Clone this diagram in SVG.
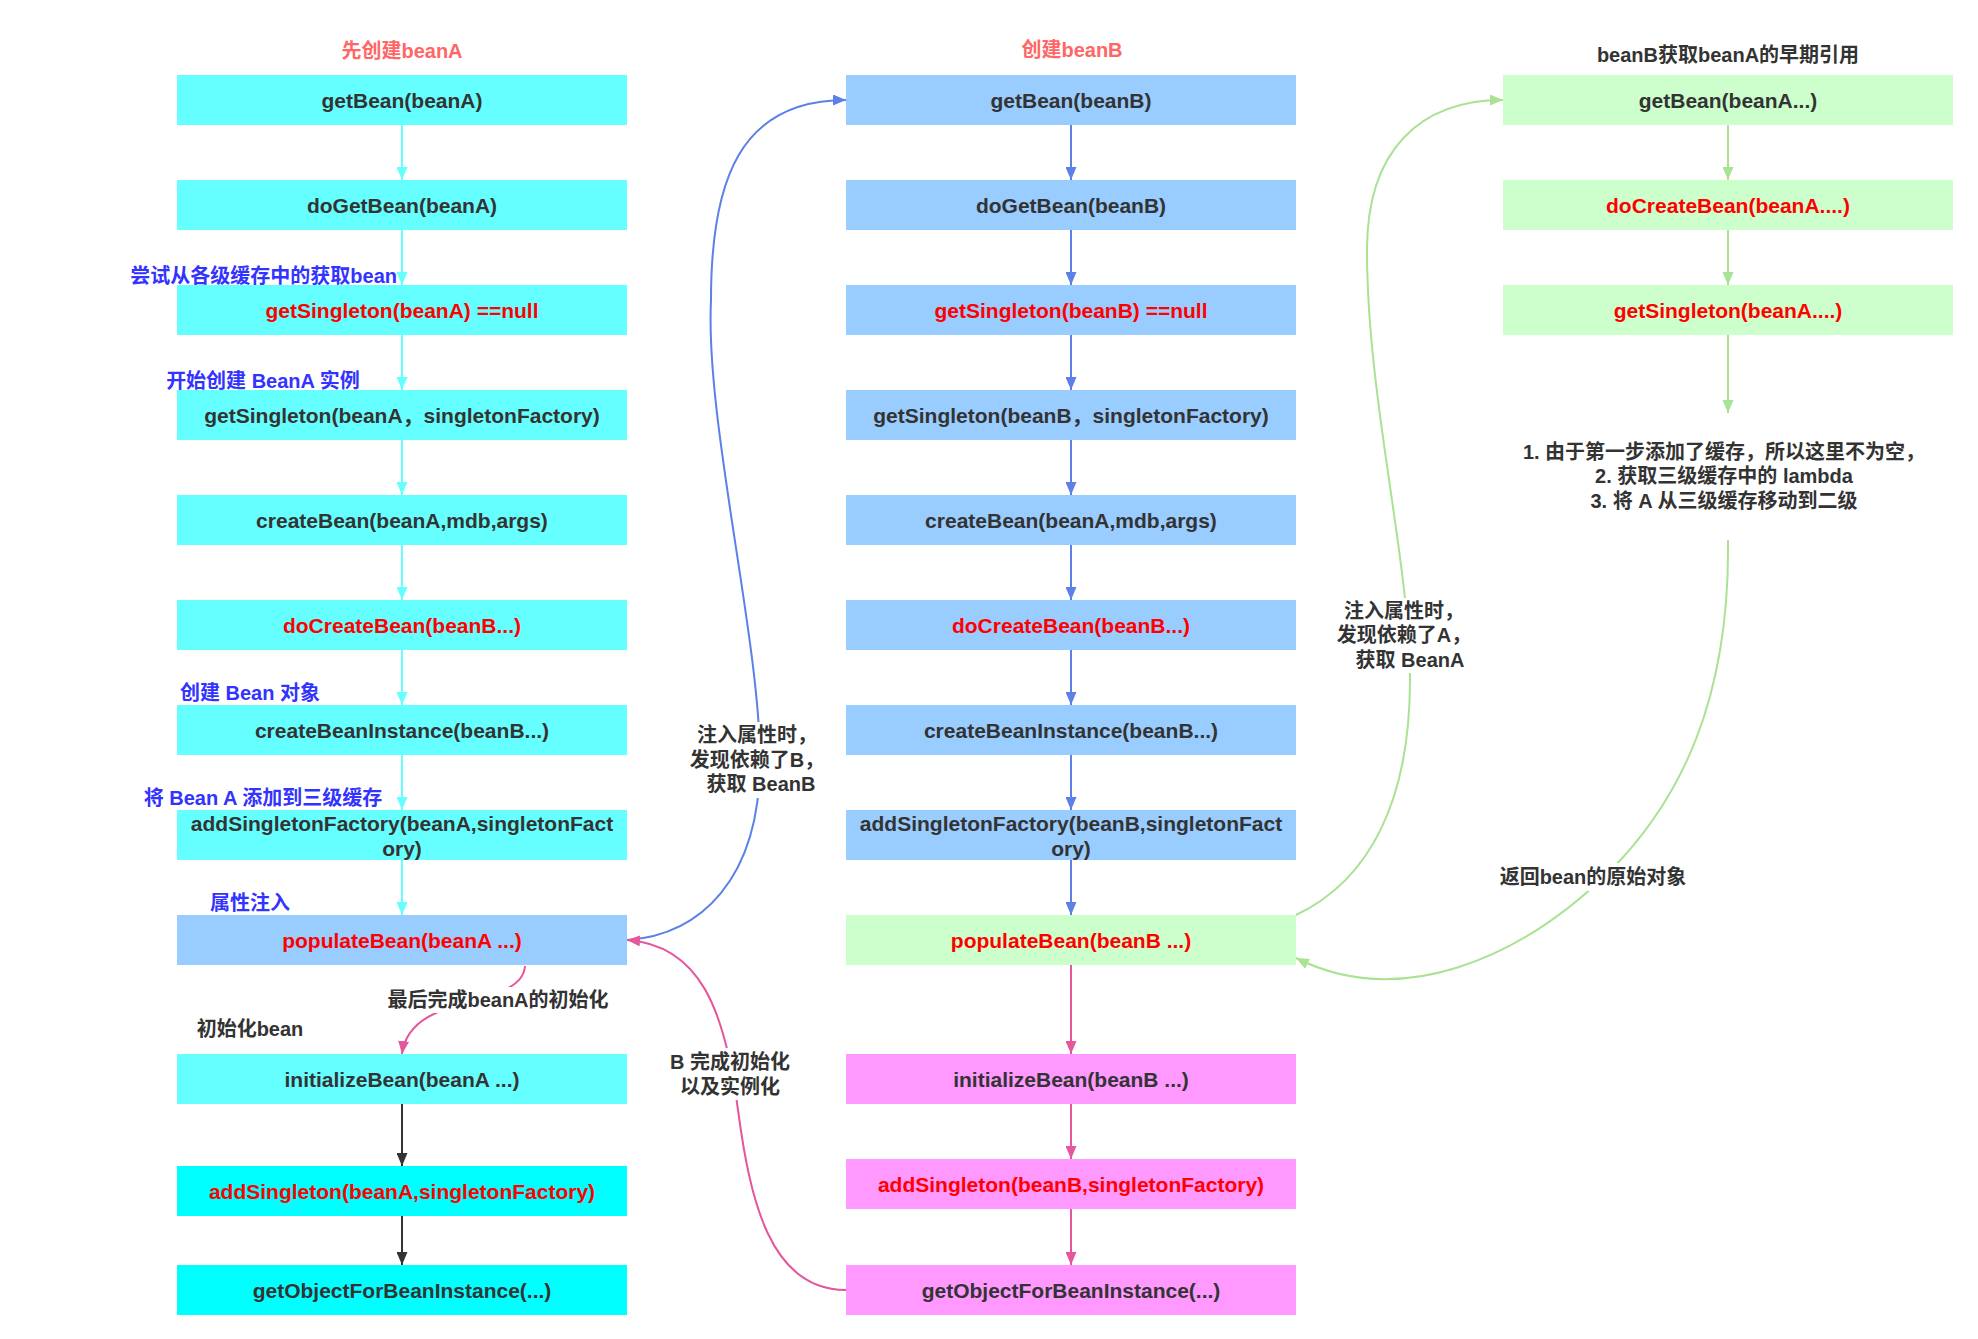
<svg xmlns="http://www.w3.org/2000/svg" width="1978" height="1339" viewBox="0 0 1978 1339">
<style>
text { font-family: "Liberation Sans", "Noto Sans CJK SC", sans-serif; font-weight: bold; dominant-baseline: central; text-anchor: middle; }
.bt { font-size: 21px; fill: #333333; }
.red { fill: #FF0000; }
.lbl { font-size: 20px; fill: #333333; }
.blue { fill: #3333FF; }
.title { fill: #FF6666; }
.c1 { fill: #66FFFF; }
.c2 { fill: #00FFFF; }
.b { fill: #99CCFF; }
.g { fill: #CCFFCC; }
.p { fill: #FF99FF; }
.e { fill: none; stroke-width: 2; }
.ec { stroke: #66FFFF; marker-end: url(#mc); }
.eb { stroke: #5C7FE8; marker-end: url(#mb); }
.ep { stroke: #E5569C; marker-end: url(#mp); }
.ed { stroke: #333333; marker-end: url(#md); }
.eg { stroke: #A9E292; marker-end: url(#mg); }
.bg { fill: #FFFFFF; }
</style>
<defs>
<marker id="mc" markerUnits="userSpaceOnUse" viewBox="0 0 13 11" refX="13" refY="5.5" markerWidth="13" markerHeight="11" orient="auto"><path d="M0,0 L13,5.5 L0,11 Z" fill="#66FFFF"/></marker>
<marker id="mb" markerUnits="userSpaceOnUse" viewBox="0 0 13 11" refX="13" refY="5.5" markerWidth="13" markerHeight="11" orient="auto"><path d="M0,0 L13,5.5 L0,11 Z" fill="#5C7FE8"/></marker>
<marker id="mp" markerUnits="userSpaceOnUse" viewBox="0 0 13 11" refX="13" refY="5.5" markerWidth="13" markerHeight="11" orient="auto"><path d="M0,0 L13,5.5 L0,11 Z" fill="#E5569C"/></marker>
<marker id="md" markerUnits="userSpaceOnUse" viewBox="0 0 13 11" refX="13" refY="5.5" markerWidth="13" markerHeight="11" orient="auto"><path d="M0,0 L13,5.5 L0,11 Z" fill="#333333"/></marker>
<marker id="mg" markerUnits="userSpaceOnUse" viewBox="0 0 13 11" refX="13" refY="5.5" markerWidth="13" markerHeight="11" orient="auto"><path d="M0,0 L13,5.5 L0,11 Z" fill="#A9E292"/></marker>
</defs>
<rect width="1978" height="1339" fill="#FFFFFF"/>

<g id="connectors">
  <line class="e ec" x1="402" y1="125" x2="402" y2="180"/>
  <line class="e ec" x1="402" y1="230" x2="402" y2="285"/>
  <line class="e ec" x1="402" y1="335" x2="402" y2="390"/>
  <line class="e ec" x1="402" y1="440" x2="402" y2="495"/>
  <line class="e ec" x1="402" y1="545" x2="402" y2="600"/>
  <line class="e ec" x1="402" y1="650" x2="402" y2="705"/>
  <line class="e ec" x1="402" y1="755" x2="402" y2="810"/>
  <line class="e ec" x1="402" y1="860" x2="402" y2="915"/>
  <path class="e ep" d="M525 966 C522 1010, 410 990, 402 1054"/>
  <line class="e ed" x1="402" y1="1104" x2="402" y2="1166"/>
  <line class="e ed" x1="402" y1="1216" x2="402" y2="1265"/>

  <line class="e eb" x1="1071" y1="125" x2="1071" y2="180"/>
  <line class="e eb" x1="1071" y1="230" x2="1071" y2="285"/>
  <line class="e eb" x1="1071" y1="335" x2="1071" y2="390"/>
  <line class="e eb" x1="1071" y1="440" x2="1071" y2="495"/>
  <line class="e eb" x1="1071" y1="545" x2="1071" y2="600"/>
  <line class="e eb" x1="1071" y1="650" x2="1071" y2="705"/>
  <line class="e eb" x1="1071" y1="755" x2="1071" y2="810"/>
  <line class="e eb" x1="1071" y1="860" x2="1071" y2="915"/>
  <line class="e ep" x1="1071" y1="965" x2="1071" y2="1054"/>
  <line class="e ep" x1="1071" y1="1104" x2="1071" y2="1159"/>
  <line class="e ep" x1="1071" y1="1209" x2="1071" y2="1265"/>

  <line class="e eg" x1="1728" y1="125" x2="1728" y2="180"/>
  <line class="e eg" x1="1728" y1="230" x2="1728" y2="285"/>
  <line class="e eg" x1="1728" y1="335" x2="1728" y2="413"/>

  <path class="e eb" d="M627 940 C700 935, 760 880, 760 760 C760 640, 705 420, 711 300 C711 180, 740 100, 846 100"/>
  <path class="e ep" d="M846 1290 C770 1290, 750 1200, 738 1110 C725 1010, 700 945, 627 940"/>
  <path class="e eg" d="M1296 915 C1370 880, 1410 800, 1410 680 C1410 560, 1367 400, 1367 250 C1367 150, 1420 100, 1503 100"/>
  <path class="e eg" d="M1728 540 C1730 700, 1680 800, 1611 870 C1520 960, 1400 1010, 1296 958"/>

  <rect class="bg" x="386" y="987" width="224" height="26"/>
  <text class="lbl" x="498" y="1000">最后完成beanA的初始化</text>
  <rect class="bg" x="693" y="722" width="126" height="76"/>
  <text class="lbl" x="757" y="735">注入属性时，</text>
  <text class="lbl" x="757" y="760">发现依赖了B，</text>
  <text class="lbl" x="761" y="784">获取 BeanB</text>
  <rect class="bg" x="670" y="1048" width="121" height="52"/>
  <text class="lbl" x="730" y="1062">B 完成初始化</text>
  <text class="lbl" x="730" y="1087">以及实例化</text>
  <rect class="bg" x="1340" y="598" width="128" height="75"/>
  <text class="lbl" x="1404" y="611">注入属性时，</text>
  <text class="lbl" x="1404" y="635">发现依赖了A，</text>
  <text class="lbl" x="1410" y="660">获取 BeanA</text>
  <rect class="bg" x="1498" y="863" width="192" height="28"/>
  <text class="lbl" x="1593" y="877">返回bean的原始对象</text>
</g>

<g id="labels">
  <text id="title-a" class="lbl title" x="402" y="51">先创建beanA</text>
  <text id="title-b" class="lbl title" x="1072" y="50">创建beanB</text>
  <text id="title-c" class="lbl" x="1728" y="55">beanB获取beanA的早期引用</text>
  <text class="lbl blue" x="397" y="276" style="text-anchor:end">尝试从各级缓存中的获取bean</text>
  <text class="lbl blue" x="263" y="381">开始创建 BeanA 实例</text>
  <text class="lbl blue" x="250" y="693">创建 Bean 对象</text>
  <text class="lbl blue" x="263" y="798">将 Bean A 添加到三级缓存</text>
  <text class="lbl blue" x="250" y="903">属性注入</text>
  <text class="lbl" x="250" y="1029">初始化bean</text>
  <text class="lbl" x="1724" y="452">1. 由于第一步添加了缓存，所以这里不为空，</text>
  <text class="lbl" x="1724" y="476">2. 获取三级缓存中的 lambda</text>
  <text class="lbl" x="1724" y="501">3. 将 A 从三级缓存移动到二级</text>
</g>

<g id="L1"><rect class="c1" x="177" y="75" width="450" height="50"/><text class="bt" x="402" y="100">getBean(beanA)</text></g>
<g id="L2"><rect class="c1" x="177" y="180" width="450" height="50"/><text class="bt" x="402" y="205">doGetBean(beanA)</text></g>
<g id="L3"><rect class="c1" x="177" y="285" width="450" height="50"/><text class="bt red" x="402" y="310">getSingleton(beanA) ==null</text></g>
<g id="L4"><rect class="c1" x="177" y="390" width="450" height="50"/><text class="bt" x="402" y="415">getSingleton(beanA，singletonFactory)</text></g>
<g id="L5"><rect class="c1" x="177" y="495" width="450" height="50"/><text class="bt" x="402" y="520">createBean(beanA,mdb,args)</text></g>
<g id="L6"><rect class="c1" x="177" y="600" width="450" height="50"/><text class="bt red" x="402" y="625">doCreateBean(beanB...)</text></g>
<g id="L7"><rect class="c1" x="177" y="705" width="450" height="50"/><text class="bt" x="402" y="730">createBeanInstance(beanB...)</text></g>
<g id="L8"><rect class="c1" x="177" y="810" width="450" height="50"/><text class="bt" x="402" y="823">addSingletonFactory(beanA,singletonFact</text><text class="bt" x="402" y="848">ory)</text></g>
<g id="L9"><rect class="b" x="177" y="915" width="450" height="50"/><text class="bt red" x="402" y="940">populateBean(beanA ...)</text></g>
<g id="L10"><rect class="c1" x="177" y="1054" width="450" height="50"/><text class="bt" x="402" y="1079">initializeBean(beanA ...)</text></g>
<g id="L11"><rect class="c2" x="177" y="1166" width="450" height="50"/><text class="bt red" x="402" y="1191">addSingleton(beanA,singletonFactory)</text></g>
<g id="L12"><rect class="c2" x="177" y="1265" width="450" height="50"/><text class="bt" x="402" y="1290">getObjectForBeanInstance(...)</text></g>

<g id="M1"><rect class="b" x="846" y="75" width="450" height="50"/><text class="bt" x="1071" y="100">getBean(beanB)</text></g>
<g id="M2"><rect class="b" x="846" y="180" width="450" height="50"/><text class="bt" x="1071" y="205">doGetBean(beanB)</text></g>
<g id="M3"><rect class="b" x="846" y="285" width="450" height="50"/><text class="bt red" x="1071" y="310">getSingleton(beanB) ==null</text></g>
<g id="M4"><rect class="b" x="846" y="390" width="450" height="50"/><text class="bt" x="1071" y="415">getSingleton(beanB，singletonFactory)</text></g>
<g id="M5"><rect class="b" x="846" y="495" width="450" height="50"/><text class="bt" x="1071" y="520">createBean(beanA,mdb,args)</text></g>
<g id="M6"><rect class="b" x="846" y="600" width="450" height="50"/><text class="bt red" x="1071" y="625">doCreateBean(beanB...)</text></g>
<g id="M7"><rect class="b" x="846" y="705" width="450" height="50"/><text class="bt" x="1071" y="730">createBeanInstance(beanB...)</text></g>
<g id="M8"><rect class="b" x="846" y="810" width="450" height="50"/><text class="bt" x="1071" y="823">addSingletonFactory(beanB,singletonFact</text><text class="bt" x="1071" y="848">ory)</text></g>
<g id="M9"><rect class="g" x="846" y="915" width="450" height="50"/><text class="bt red" x="1071" y="940">populateBean(beanB ...)</text></g>
<g id="M10"><rect class="p" x="846" y="1054" width="450" height="50"/><text class="bt" x="1071" y="1079">initializeBean(beanB ...)</text></g>
<g id="M11"><rect class="p" x="846" y="1159" width="450" height="50"/><text class="bt red" x="1071" y="1184">addSingleton(beanB,singletonFactory)</text></g>
<g id="M12"><rect class="p" x="846" y="1265" width="450" height="50"/><text class="bt" x="1071" y="1290">getObjectForBeanInstance(...)</text></g>

<g id="R1"><rect class="g" x="1503" y="75" width="450" height="50"/><text class="bt" x="1728" y="100">getBean(beanA...)</text></g>
<g id="R2"><rect class="g" x="1503" y="180" width="450" height="50"/><text class="bt red" x="1728" y="205">doCreateBean(beanA....)</text></g>
<g id="R3"><rect class="g" x="1503" y="285" width="450" height="50"/><text class="bt red" x="1728" y="310">getSingleton(beanA....)</text></g>
</svg>
